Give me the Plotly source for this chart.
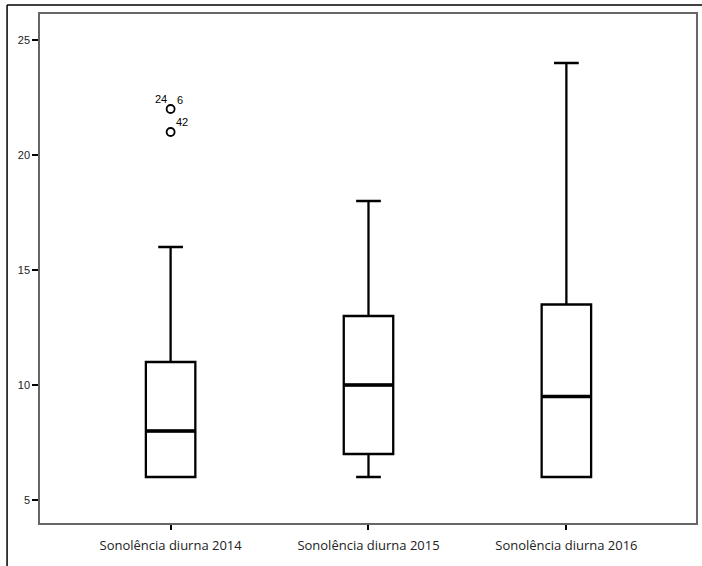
import plotly.graph_objects as go

# Sonolência diurna — box plot summaries per year
categories = ["Sonolência diurna 2014", "Sonolência diurna 2015", "Sonolência diurna 2016"]
q1 = [6, 7, 6]
median = [8, 10, 9.5]
q3 = [11, 13, 13.5]
lower_whisker = [6, 6, 6]
upper_whisker = [16, 18, 24]

# Outliers (2014 series) with case labels
outlier_values = [22, 21]
outlier_labels = [["24", "6"], ["42"]]

y_ticks = [5, 10, 15, 20, 25]

positions = list(range(len(categories)))
box_width = 0.25

fig = go.Figure()

fig.add_trace(go.Box(
    x=positions,
    q1=q1,
    median=median,
    q3=q3,
    lowerfence=lower_whisker,
    upperfence=upper_whisker,
    width=box_width,
    whiskerwidth=0.5,
    fillcolor="rgba(0,0,0,0)",
    line=dict(color="black", width=2.3),
    boxpoints=False,
    hoverinfo="skip",
    showlegend=False,
))

# Heavier median bars drawn over the boxes
med_x, med_y = [], []
for p, m in zip(positions, median):
    med_x += [p - box_width / 2, p + box_width / 2, None]
    med_y += [m, m, None]
fig.add_trace(go.Scatter(
    x=med_x, y=med_y, mode="lines",
    line=dict(color="black", width=3.4),
    showlegend=False, hoverinfo="skip",
))

fig.add_trace(go.Scatter(
    x=[positions[0]] * len(outlier_values),
    y=outlier_values,
    mode="markers",
    marker=dict(symbol="circle-open", size=8, color="black", line=dict(width=1.8)),
    showlegend=False,
    hoverinfo="skip",
))

# Case number labels around the outlier circles
label_font = dict(family="Liberation Sans, Arial, sans-serif", size=11, color="black")
fig.add_annotation(x=positions[0], y=outlier_values[0], text=outlier_labels[0][0],
                   showarrow=False, xanchor="right", yanchor="bottom", xshift=-2, yshift=2, font=label_font)
fig.add_annotation(x=positions[0], y=outlier_values[0], text=outlier_labels[0][1],
                   showarrow=False, xanchor="left", yanchor="bottom", xshift=4, yshift=1, font=label_font)
fig.add_annotation(x=positions[0], y=outlier_values[1], text=outlier_labels[1][0],
                   showarrow=False, xanchor="left", yanchor="bottom", xshift=3, yshift=2, font=label_font)

# Outer frame lines (left and top)
fig.add_shape(type="line", xref="paper", yref="paper", x0=-0.0502, x1=-0.0502, y0=1.0177, y1=-0.09,
              line=dict(color="black", width=1.5))
fig.add_shape(type="line", xref="paper", yref="paper", x0=-0.0502, x1=1.01, y0=1.0177, y1=1.0177,
              line=dict(color="black", width=1.5))

fig.update_layout(
    width=702,
    height=566,
    margin=dict(l=40, r=4, t=14, b=43),
    paper_bgcolor="white",
    plot_bgcolor="white",
    font=dict(family="Liberation Sans, Arial, sans-serif", color="black"),
    xaxis=dict(
        tickvals=positions,
        ticktext=categories,
        range=[-0.66, 2.655],
        showgrid=False,
        zeroline=False,
        showline=True,
        linecolor="#666666",
        linewidth=1.5,
        mirror=True,
        ticks="outside",
        ticklen=5,
        tickwidth=2,
        tickcolor="black",
        ticklabelstandoff=5,
        tickfont=dict(family="Open Sans, sans-serif", size=13, color="#222222"),
    ),
    yaxis=dict(
        tickvals=y_ticks,
        range=[4.0, 26.13],
        showgrid=False,
        zeroline=False,
        showline=True,
        linecolor="#666666",
        linewidth=1.5,
        mirror=True,
        ticks="outside",
        ticklen=6,
        tickwidth=2,
        tickcolor="black",
        tickfont=dict(size=11, color="#222222"),
    ),
)

fig.write_html("out.html")
